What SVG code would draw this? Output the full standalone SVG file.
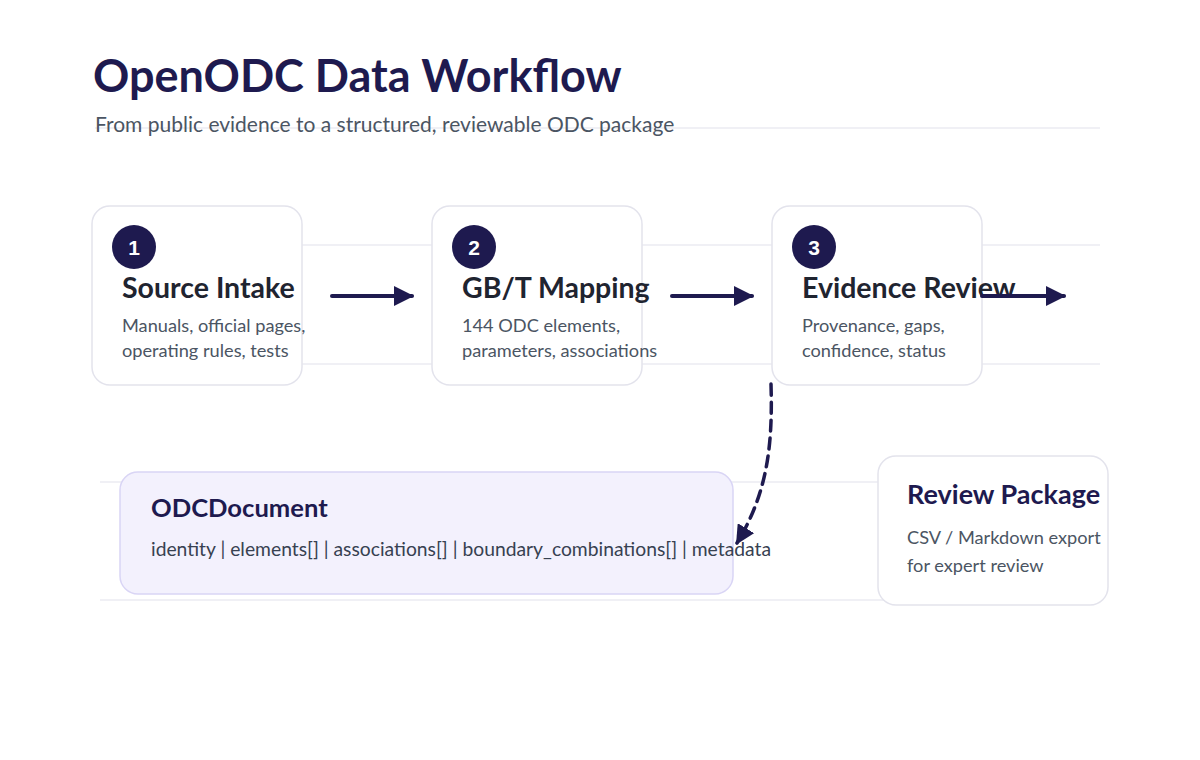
<svg xmlns="http://www.w3.org/2000/svg" width="1200" height="760" viewBox="0 0 1200 760">
<style>
.t{font-family:Lato,"Noto Sans",sans-serif}
.guide{stroke:#ebebf2;stroke-width:1.5;fill:none}
.card{fill:#ffffff;stroke:#e3e3ec;stroke-width:1.5}
.badge{fill:#1e1a4f}
.num{font-family:"Liberation Sans",Arial,sans-serif;font-weight:700;font-size:21px;fill:#ffffff;text-anchor:middle}
.h{font-weight:700;font-size:28.5px;fill:#1f2430}
.d{font-size:18.2px;fill:#4b5563}
.flow{stroke:#1e1a4f;stroke-width:4;fill:none;stroke-linecap:round}
</style>
<defs>
<marker id="ah" viewBox="0 0 10 10" refX="9" refY="5" markerWidth="5" markerHeight="5" orient="auto" markerUnits="strokeWidth">
<path d="M0,0 L10,5 L0,10 Z" fill="#1e1a4f"/>
</marker>
<marker id="ah2" viewBox="0 0 10 10" refX="9" refY="5" markerWidth="5.5" markerHeight="5.5" orient="auto" markerUnits="strokeWidth">
<path d="M0,0 L10,5 L0,10 Z" fill="#1e1a4f"/>
</marker>
</defs>
<rect width="1200" height="760" fill="#ffffff"/>
<g id="guides">
<line class="guide" x1="95" y1="128" x2="1100" y2="128"/>
<line class="guide" x1="95" y1="245" x2="1100" y2="245"/>
<line class="guide" x1="95" y1="364" x2="1100" y2="364"/>
<line class="guide" x1="100" y1="482" x2="1100" y2="482"/>
<line class="guide" x1="100" y1="600" x2="1100" y2="600"/>
</g>
<g id="header">
<text class="t" x="93" y="92" font-size="45" font-weight="700" fill="#1e1a4f">OpenODC Data Workflow</text>
<text class="t" x="95" y="132" font-size="21" fill="#4b5563">From public evidence to a structured, reviewable ODC package</text>
</g>
<g id="step1">
<rect class="card" x="92" y="206" width="210" height="179" rx="18"/>
<circle class="badge" cx="134" cy="247" r="22"/>
<text class="num" x="134" y="254.5">1</text>
<text class="t h" x="122" y="298">Source Intake</text>
<text class="t d" x="122" y="332">Manuals, official pages,</text>
<text class="t d" x="122" y="357">operating rules, tests</text>
</g>
<g id="step2">
<rect class="card" x="432" y="206" width="210" height="179" rx="18"/>
<circle class="badge" cx="474" cy="247" r="22"/>
<text class="num" x="474" y="254.5">2</text>
<text class="t h" x="462" y="298">GB/T Mapping</text>
<text class="t d" x="462" y="332">144 ODC elements,</text>
<text class="t d" x="462" y="357">parameters, associations</text>
</g>
<g id="step3">
<rect class="card" x="772" y="206" width="210" height="179" rx="18"/>
<circle class="badge" cx="814" cy="247" r="22"/>
<text class="num" x="814" y="254.5">3</text>
<text class="t h" x="802" y="298">Evidence Review</text>
<text class="t d" x="802" y="332">Provenance, gaps,</text>
<text class="t d" x="802" y="357">confidence, status</text>
</g>
<g id="odcdocument">
<rect x="120" y="472" width="613" height="122" rx="18" fill="#f3f1fd" stroke="#d9d5f5" stroke-width="1.5"/>
<text class="t" x="151" y="517" font-size="25.6" font-weight="700" fill="#1e1a4f">ODCDocument</text>
<text class="t" x="151" y="556" font-size="19.3" fill="#374151">identity | elements[] | associations[] | boundary_combinations[] | metadata</text>
</g>
<g id="reviewpackage">
<rect class="card" x="878" y="456" width="230" height="149" rx="18"/>
<text class="t" x="907" y="504" font-size="27" font-weight="700" fill="#1e1a4f">Review Package</text>
<text class="t d" x="907" y="544">CSV / Markdown export</text>
<text class="t d" x="907" y="572">for expert review</text>
</g>
<g id="connectors">
<line class="flow" x1="332" y1="296" x2="412" y2="296" marker-end="url(#ah)"/>
<line class="flow" x1="672" y1="296" x2="752" y2="296" marker-end="url(#ah)"/>
<line class="flow" x1="982" y1="296" x2="1064" y2="296" marker-end="url(#ah)"/>
<path d="M771,384 C773,450 766,495 737,543" stroke="#1e1a4f" stroke-width="3.5" fill="none" stroke-dasharray="11 7" stroke-linecap="round" marker-end="url(#ah2)"/>
</g>
</svg>
